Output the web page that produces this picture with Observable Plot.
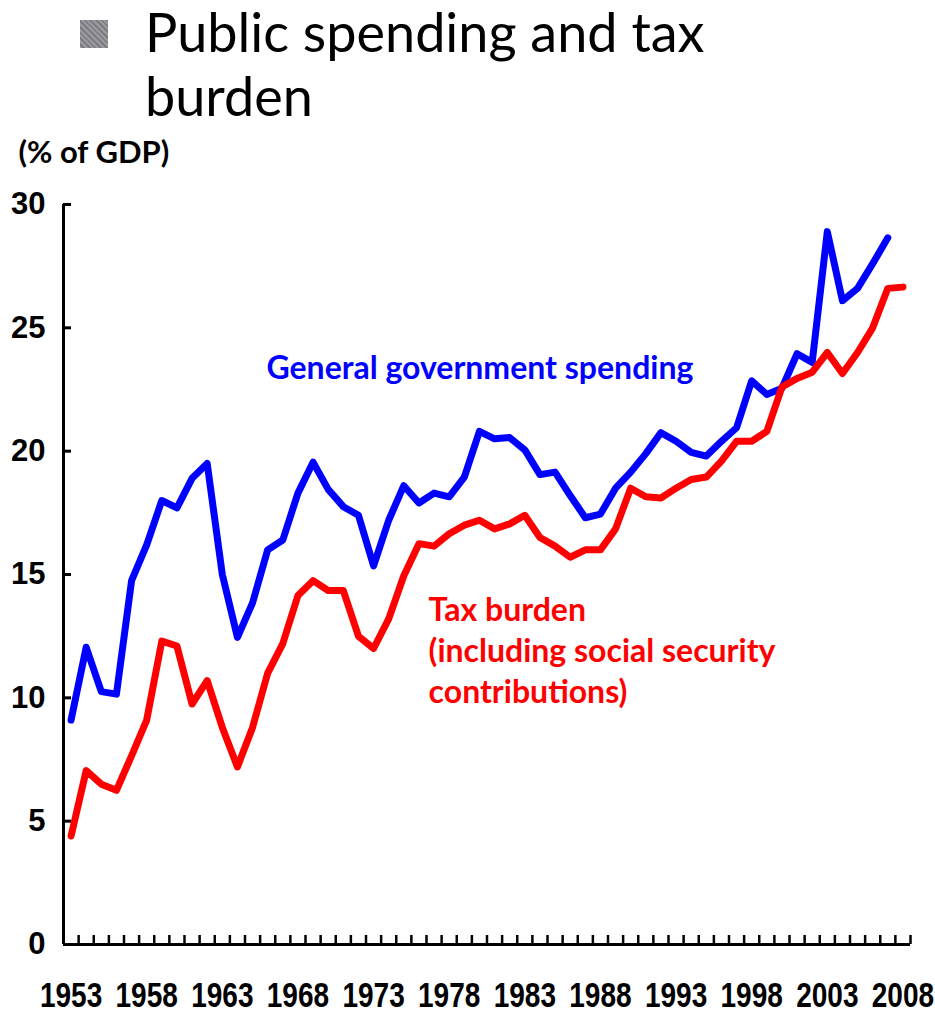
<!DOCTYPE html>
<html><head><meta charset="utf-8">
<script src="https://cdn.jsdelivr.net/npm/d3@7"></script>
<script src="https://cdn.jsdelivr.net/npm/@observablehq/plot@0.6"></script>
<style>
html,body{margin:0;padding:0;background:#fff;}
body{width:935px;height:1017px;overflow:hidden;}
#title{position:relative;height:130px;font-family:Lato,"Open Sans",sans-serif;}
#title .bullet{position:absolute;left:80px;top:20px;width:28px;height:28px;
  background:repeating-linear-gradient(45deg,#9a9a9a 0 2px,#7c7c86 2px 4px);}
#title .t{position:absolute;left:145px;top:0px;font-size:54px;line-height:64px;color:#000;white-space:nowrap;}
#chart svg{display:block;}
</style></head>
<body>
<div id="title"><span class="bullet"></span><div class="t">Public spending and tax<br>burden</div></div>
<div id="chart"></div>
<script>
const years = [1953,1954,1955,1956,1957,1958,1959,1960,1961,1962,1963,1964,1965,1966,1967,1968,1969,1970,1971,1972,1973,1974,1975,1976,1977,1978,1979,1980,1981,1982,1983,1984,1985,1986,1987,1988,1989,1990,1991,1992,1993,1994,1995,1996,1997,1998,1999,2000,2001,2002,2003,2004,2005,2006,2007,2008];
// General government spending (% of GDP), 1953-2007
const spending = [9.1,12.05,10.25,10.15,14.75,16.2,18.0,17.7,18.9,19.5,15.0,12.45,13.85,16.0,16.4,18.3,19.55,18.45,17.75,17.4,15.35,17.2,18.6,17.9,18.3,18.15,18.95,20.8,20.5,20.55,20.05,19.05,19.15,18.2,17.3,17.45,18.5,19.15,19.9,20.75,20.4,19.95,19.8,20.4,20.95,22.85,22.3,22.55,23.95,23.6,28.9,26.1,26.6,27.6,28.65];
// Tax burden incl. social security contributions (% of GDP), 1953-2008
const tax = [4.4,7.05,6.5,6.25,7.65,9.1,12.3,12.1,9.75,10.7,8.8,7.2,8.8,11.0,12.2,14.15,14.75,14.35,14.35,12.5,12.0,13.2,14.95,16.25,16.15,16.65,17.0,17.2,16.85,17.05,17.4,16.5,16.15,15.7,16.0,16.0,16.85,18.5,18.15,18.1,18.5,18.85,18.95,19.6,20.4,20.4,20.8,22.6,22.95,23.2,24.0,23.15,24.0,25.0,26.6,26.65];
const yTicks = [0,5,10,15,20,25,30];
const xLabelYears = [1953,1958,1963,1968,1973,1978,1983,1988,1993,1998,2003,2008];
const seriesLabels = ["General government spending", "Tax burden\n(including social security\ncontributions)"];
const yLabel = "(% of GDP)";

const spendRows = spending.map((v,i)=>({year: years[i], value: v}));
const taxRows = tax.map((v,i)=>({year: years[i], value: v}));
const boundaries = years.map(y=>y-0.5).concat([years[years.length-1]+0.5]);
const x0 = years[0]-0.5, x1 = years[years.length-1]+0.5;

const W = 935, H = 887, mT = 74, mB = 73, mL = 63, mR = 25;
const frameW = W-mL-mR, frameH = H-mT-mB;
const bold = "'Liberation Sans', Arial, sans-serif";
const cal = "Lato, 'Open Sans', sans-serif";

const chart = Plot.plot({
  width: W, height: H,
  marginTop: mT, marginBottom: mB, marginLeft: mL, marginRight: mR,
  x: {domain: [x0, x1], axis: null},
  y: {domain: [0, 30], axis: null},
  style: {background: "transparent", color: "#000", overflow: "visible"},
  marks: [
    Plot.axisY(yTicks, {tickSize: 0, tickPadding: 18, fontSize: 31, fontWeight: "bold", fontFamily: bold, label: null, tickFormat: "d"}),
    Plot.axisX(xLabelYears, {tickSize: 0, tickPadding: 32, fontSize: 28, fontWeight: "bold", fontFamily: bold, label: null, tickFormat: "d"}),
    Plot.tickY(yTicks, {y: d=>d, insetRight: frameW-8, stroke: "#000", strokeWidth: 3}),
    Plot.tickX(boundaries, {x: d=>d, insetTop: frameH-9, stroke: "#000", strokeWidth: 2.5}),
    Plot.ruleY([0], {stroke: "#000", strokeWidth: 3}),
    Plot.ruleX([x0], {stroke: "#000", strokeWidth: 3}),
    Plot.line(spendRows, {x: "year", y: "value", stroke: "#0000ff", strokeWidth: 7, strokeLinejoin: "round"}),
    Plot.line(taxRows, {x: "year", y: "value", stroke: "#ff0000", strokeWidth: 7, strokeLinejoin: "round"}),
    Plot.text([seriesLabels[0]], {x: 1965.92, y: 22.94, text: d=>d, textAnchor: "start", lineAnchor: "bottom", fill: "#0000ff", fontSize: 32, fontWeight: "bold", fontFamily: cal}),
    Plot.text([seriesLabels[1]], {x: 1976.64, y: 9.81, text: d=>d, textAnchor: "start", lineAnchor: "bottom", lineHeight: 1.28, fill: "#ff0000", fontSize: 32, fontWeight: "bold", fontFamily: cal}),
    Plot.text([yLabel], {frameAnchor: "top-left", dx: -45, dy: -42, text: d=>d, textAnchor: "start", lineAnchor: "bottom", fill: "#000", fontSize: 31, fontWeight: "bold", fontFamily: cal})
  ]
});
document.getElementById("chart").appendChild(chart);

// the reference's tick labels are drawn taller than wide: stretch the year labels vertically about their centre
const lab = chart.querySelector('g[aria-label="x-axis tick label"]');
if (lab) {
  const bb = lab.getBBox();
  const cy = bb.y + bb.height / 2;
  const wrap = document.createElementNS("http://www.w3.org/2000/svg", "g");
  wrap.setAttribute("transform", `translate(0,${cy}) scale(1,1.25) translate(0,${-cy})`);
  lab.parentNode.insertBefore(wrap, lab);
  wrap.appendChild(lab);
}
</script>
</body></html>
